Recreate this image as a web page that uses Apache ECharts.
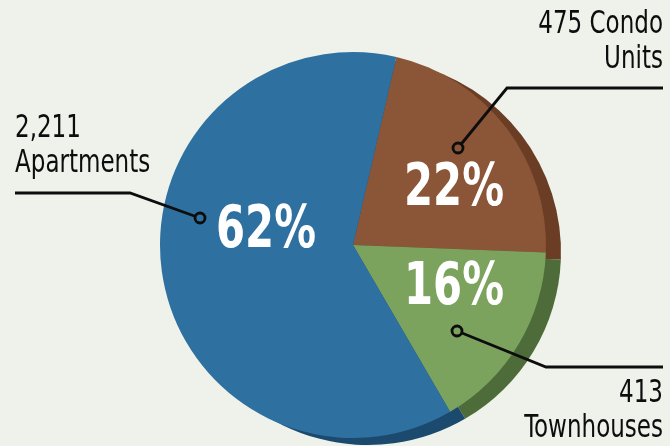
<!DOCTYPE html>
<html><head><meta charset="utf-8">
<script src="https://cdn.jsdelivr.net/npm/echarts@6/dist/echarts.min.js"></script>
<style>html,body{margin:0;padding:0;background:#eef2ea}#c{width:670px;height:446px}</style>
</head><body><div id="c"></div>
<script>
// ---- data ----
const categories = ['Condo Units', 'Townhouses', 'Apartments'];
const shares = [22, 16, 62];          // percent shares shown on the slices
const counts = [475, 413, 2211];      // unit counts in the callouts
const calloutNames = [['Condo', 'Units'], ['', 'Townhouses'], ['', 'Apartments']];

// ---- style / layout ----
const colors = ['#8b5537', '#7ba35e', '#2e71a1'];
const sideColors = ['#6b3d24', '#4e6b3a', '#1c4a6e'];
const CX = 353, CY = 245, R = 193, DX = 15, DY = 7, START = 77;
const FONT = '"DejaVu Sans Condensed","Liberation Sans Narrow",sans-serif';
const pctPos = [[454, 190], [454, 289], [266, 232]];
const callouts = [
  { pts: [[458, 148], [507, 88], [663, 88]], tx: 663, ty: 7, align: 'right' },
  { pts: [[457, 331], [546, 367], [663, 367]], tx: 663, ty: 376, align: 'right' },
  { pts: [[200, 218], [130, 193], [15, 193]], tx: 15, ty: 111, align: 'left' }
];

const fmt = n => n.toLocaleString('en-US');
const mkData = cols => categories.map((c, i) => ({ name: c, value: shares[i], itemStyle: { color: cols[i] } }));

const graphics = [];
callouts.forEach((co, i) => {
  graphics.push({ type: 'polyline', z: 100, shape: { points: co.pts }, style: { stroke: '#0d0d0d', lineWidth: 2.8, fill: null } });
  graphics.push({ type: 'circle', z: 101, shape: { cx: co.pts[0][0], cy: co.pts[0][1], r: 5 }, style: { stroke: '#0d0d0d', lineWidth: 2.8, fill: colors[i] } });
  const first = fmt(counts[i]) + (calloutNames[i][0] ? ' ' + calloutNames[i][0] : '');
  graphics.push({
    type: 'text', z: 100, x: co.tx, y: co.ty, scaleX: 0.8,
    style: { text: first + '\n' + calloutNames[i][1], font: '32px ' + FONT, fill: '#0d0d0d',
      align: co.align, textAlign: co.align, verticalAlign: 'top', textVerticalAlign: 'top', lineHeight: 35 }
  });
});
shares.forEach((s, i) => {
  graphics.push({
    type: 'text', z: 102, x: pctPos[i][0], y: pctPos[i][1], scaleX: 0.8,
    style: { text: s + '%', font: 'bold 58px ' + FONT, fill: '#fff',
      align: 'center', textAlign: 'center', verticalAlign: 'middle', textVerticalAlign: 'middle' }
  });
});

const chart = echarts.init(document.getElementById('c'));
chart.setOption({
  backgroundColor: '#eef2ea',
  animation: false,
  series: [
    { type: 'pie', silent: true, center: [CX + DX, CY + DY], radius: R, startAngle: START, clockwise: true,
      label: { show: false }, labelLine: { show: false }, itemStyle: { borderWidth: 0 }, data: mkData(sideColors), z: 1 },
    { type: 'pie', silent: true, center: [CX, CY], radius: R, startAngle: START, clockwise: true,
      itemStyle: { borderWidth: 0 }, labelLine: { show: false }, label: { show: false },
      data: mkData(colors), z: 2 }
  ],
  graphic: graphics
});
</script></body></html>
